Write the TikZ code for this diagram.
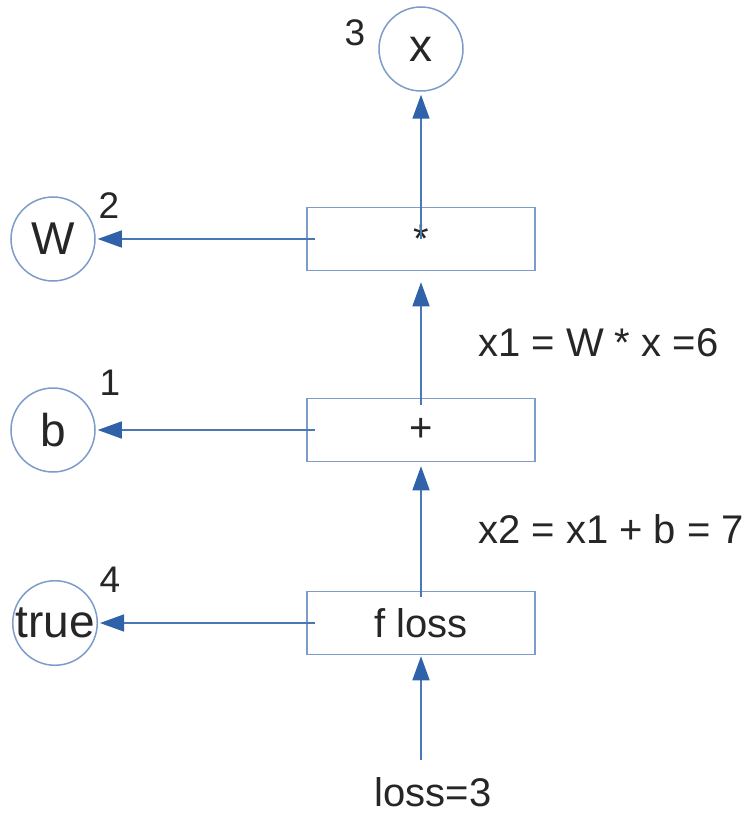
\documentclass[tikz,border=0pt]{standalone}
\usepackage{fontspec}
\setmainfont{Liberation Sans}
\usetikzlibrary{arrows.meta}
\definecolor{edge}{HTML}{4A78B5}
\definecolor{tipc}{HTML}{2F62A8}
\definecolor{ring}{HTML}{7D9CC9}
\definecolor{ink}{HTML}{262626}
\begin{document}
\begin{tikzpicture}[x=1pt,y=-1pt,
  var/.style={circle, draw=ring, line width=1.5pt, minimum size=84pt, inner sep=0pt, text=ink, font=\fontsize{46}{50}\selectfont},
  opbox/.style={rectangle, draw=ring, line width=1.5pt, minimum width=228pt, minimum height=63pt, inner sep=0pt, text=ink, font=\fontsize{40}{44}\selectfont},
  conn/.style={draw=edge, line width=1.5pt, -{Triangle[length=24pt,width=17pt,fill=tipc,color=tipc]}},
  num/.style={text=ink, font=\fontsize{37}{40}\selectfont, inner sep=0pt},
  lbl/.style={text=ink, font=\fontsize{40}{44}\selectfont, anchor=base west, inner sep=0pt}]
\useasboundingbox (0,0) rectangle (752,813);

\node[var] (x) at (421,49) {x};
\node[var] (W) at (53,239) {W};
\node[var] (b) at (53,430) {b};
\node[var] (tr) at (55,623) {true};

\node[opbox] (mul) at (421,239) {\raisebox{-5pt}{*}};
\node[opbox] (plus) at (421,430) {+};
\node[opbox] (flo) at (421,623) {f loss};

\node[num] (n3) at (355,33) {3};
\node[num] (n2) at (109,206) {2};
\node[num] (n1) at (110,383) {1};
\node[num] (n4) at (110,580) {4};

\node[lbl] (l1) at (478,356) {x1 = W * x =6};
\node[lbl] (l2) at (478,543) {x2 = x1 + b = 7};

\node[text=ink, font=\fontsize{40}{44}\selectfont, anchor=base, inner xsep=0pt, inner ysep=17pt] (loss) at (433,806) {loss=3};

\draw[conn, shorten >=3pt] (mul.center) -- (x.south);
\draw[conn, shorten >=11pt] ([yshift=-7pt]plus.north) -- (mul.south);
\draw[conn, shorten >=4pt] ([yshift=-6pt]flo.north) -- (plus.south);
\draw[conn, shorten >=1pt] (loss.north -| flo.south) -- (flo.south);

\draw[conn, shorten >=2pt] ([xshift=9pt]mul.west) -- (W.east);
\draw[conn, shorten >=2pt] ([xshift=9pt]plus.west) -- (b.east);
\draw[conn, shorten >=2pt] ([xshift=9pt]flo.west) -- (tr.east);
\end{tikzpicture}
\end{document}
